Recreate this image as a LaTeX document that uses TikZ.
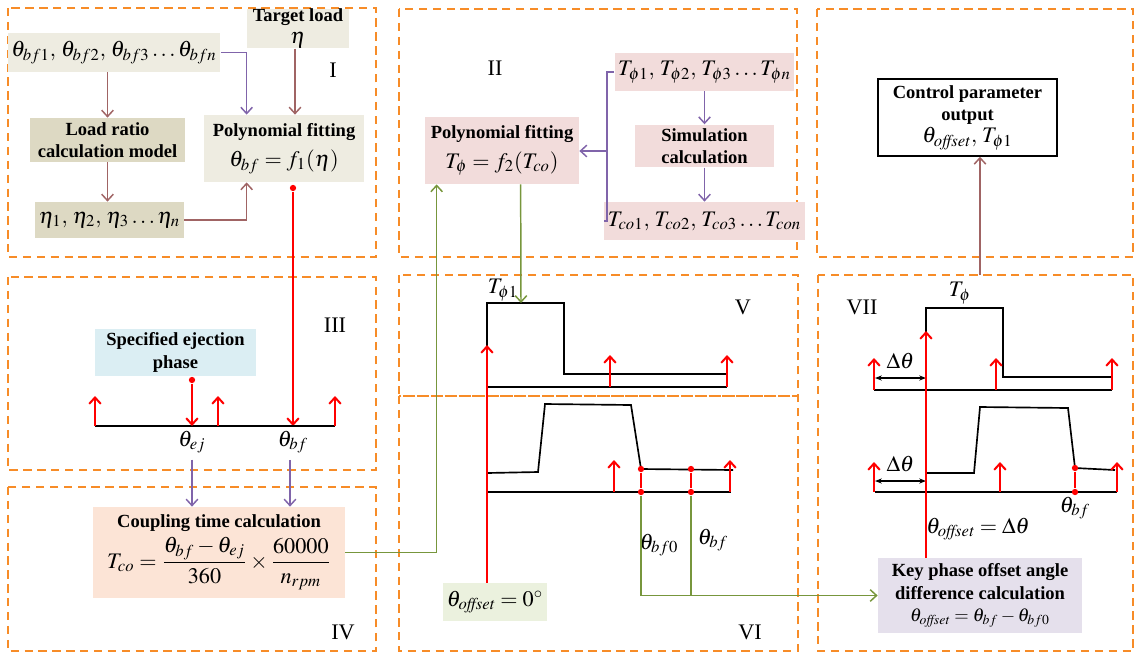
\documentclass[tikz,border=0pt]{standalone}
\usepackage{amsmath}
\usepackage{mathptmx}
\usepackage{fontspec}
\setmainfont{Liberation Serif}
\usetikzlibrary{arrows.meta,calc,positioning}
\definecolor{corange}{RGB}{247,140,40}
\definecolor{cbrown}{RGB}{160,100,100}
\definecolor{cpurple}{RGB}{128,100,170}
\definecolor{cgreen}{RGB}{119,150,60}
\definecolor{cbeige}{RGB}{238,236,225}
\definecolor{ctan}{RGB}{221,217,195}
\definecolor{cpink}{RGB}{242,220,219}
\definecolor{cblue}{RGB}{219,238,243}
\definecolor{cpeach}{RGB}{252,228,214}
\definecolor{clav}{RGB}{229,224,236}
\definecolor{cmint}{RGB}{235,241,222}
\newcommand{\pxu}{0.54pt}
\newcommand{\thoff}{\theta_{\mathit{offset}}}
\tikzset{
  panel/.style={draw=corange,line width=1.1pt,dash pattern=on 4.5pt off 3pt},
  fbox/.style={rectangle,draw=none,align=center,inner sep=2pt,font=\bfseries},
  beige/.style={fbox,fill=cbeige},
  tan/.style={fbox,fill=ctan},
  pinkbox/.style={fbox,fill=cpink},
  % arrows between the boxes
  brarr/.style={->,draw=cbrown,line width=0.8pt},
  puarr/.style={->,draw=cpurple,line width=0.8pt},
  grarr/.style={->,draw=cgreen,line width=0.8pt},
  redarr/.style={->,draw=red,line width=1.1pt},
  % phase diagrams: axis in black, key phase marks in red
  axisln/.style={black,line width=1.3pt},
  wave/.style={black,line width=0.9pt},
  rdot/.style={circle,fill=red,inner sep=0pt,minimum size=3.4pt},
  tag/.style={font=\large},
  mlab/.style={font=\large}
}

\begin{document}
\begin{tikzpicture}[x=0.54pt,y=-0.54pt,>={Straight Barb[length=1.2mm,width=2.2mm]}]
\useasboundingbox (0,0) rectangle (1135,653);
% ---------- dashed panels ----------
\draw[panel] (8,8) rectangle (376,257);
\draw[panel] (399,9) rectangle (797,257);
\draw[panel] (817,9) rectangle (1133,257);
\draw[panel] (8,277) rectangle (376,470);
\draw[panel] (8,487) rectangle (376,651);
\draw[panel] (399,275) rectangle (798,396);
\draw[panel] (399,396) rectangle (798,651);
\draw[panel] (818,275) rectangle (1133,651);
% ---------- I: target load -> theta_bf ----------
\node[beige,minimum width=174*\pxu,minimum height=39*\pxu] (thbf) at (114,52.5)
  {\large$\theta_{bf1},\,\theta_{bf2},\,\theta_{bf3}\ldots\theta_{bfn}$};
\node[beige,minimum width=102*\pxu,minimum height=33*\pxu,inner sep=0pt] (target) at (298,28.5)
  {Target load\\{\large$\eta$}};
\node[tan,minimum width=155*\pxu,minimum height=44*\pxu] (ldmodel) at (107.5,140)
  {Load ratio\\calculation model};
\node[beige,minimum width=160*\pxu,minimum height=67*\pxu] (fit1) at (284,148.5)
  {Polynomial fitting\\[4pt]{\large$\theta_{bf}=f_1(\eta)$}};
\node[tan,minimum width=117*\pxu,minimum height=36*\pxu] (etas) at (109.5,220)
  {\large$\eta_1,\,\eta_2,\,\eta_3\ldots\eta_n$};
\node[tag] at (333,70) {I};
\draw[brarr] (ldmodel.north |- thbf.south) -- (ldmodel.north);
\draw[brarr] (ldmodel.south) -- (ldmodel.south |- etas.north);
\draw[brarr] (etas.east) -| ($(fit1.south west)+(43,0)$);
\draw[puarr] (thbf.east) -| ($(fit1.north west)+(43,0)$);
\draw[brarr] (target.south -| 295,0) -- (fit1.north -| 295,0);
\node[rdot] (bfout) at (293,188) {};
\coordinate (bfax) at (293,426);
\draw[redarr] (bfout) -- (bfax);
% ---------- II: coupling time -> pulse width ----------
\node[pinkbox,minimum width=154*\pxu,minimum height=67*\pxu] (fit2) at (502,150.5)
  {Polynomial fitting\\[4pt]{\large$T_{\phi}=f_2(T_{co})$}};
\node[pinkbox,minimum width=139*\pxu,minimum height=38*\pxu] (tphi) at (704.5,72)
  {\large$T_{\phi1},\,T_{\phi2},\,T_{\phi3}\ldots T_{\phi n}$};
\node[pinkbox,minimum width=139*\pxu,minimum height=42*\pxu] (simcalc) at (704.5,146)
  {Simulation\\calculation};
\node[pinkbox,minimum width=139*\pxu,minimum height=38*\pxu] (tco) at (704.5,221)
  {\large$T_{co1},\,T_{co2},\,T_{co3}\ldots T_{con}$};
\node[tag] at (495,68) {II};
\draw[puarr] (tphi) -- (simcalc);
\draw[puarr] (simcalc) -- (tco);
\coordinate (brk) at (607,151);
\draw[cpurple,line width=0.8pt] (tphi.west) -| (brk) |- (tco.west);
\draw[puarr] (brk) -- (brk -| fit2.east);
% ---------- III: ejection phase ----------
\node[fbox,fill=cblue,minimum width=161*\pxu,minimum height=47*\pxu] (ejbox) at (175.5,352.5)
  {Specified ejection\\phase};
\node[tag] at (335,325) {III};
\draw[axisln] (95,426) -- (335,426);
\foreach \x in {95,218,335} {\draw[redarr] (\x,426) -- (\x,396);}
\node[rdot] (ejdot) at (192,380) {};
\draw[redarr] (ejdot) -- (192,426);
\node[mlab] (lej) at (192,442) {$\theta_{ej}$};
\node[mlab] (lbf) at (293,442) {$\theta_{bf}$};
% ---------- IV: coupling time ----------
\node[fbox,fill=cpeach,minimum width=252*\pxu,minimum height=91*\pxu] (couple) at (219,552.5)
  {Coupling time calculation\\[2pt]
   {\large$T_{co}=\dfrac{\theta_{bf}-\theta_{ej}}{360}\times\dfrac{60000}{n_{rpm}}$}};
\node[tag] at (343,632) {IV};
\draw[puarr] (lej.south) -- (lej.south |- couple.north);
\draw[puarr] (lbf.south -| 290,0) -- (couple.north -| 290,0);
\draw[grarr] (couple.east) -| ($(fit2.south west)+(12,0)$);
% ---------- V: pulse at zero offset ----------
\coordinate (ptop) at (521,303);
\draw[wave] (487,373) -- (487,303) -- (564,303) -- (564,374) -- (727,374);
\draw[axisln] (487,387) -- (727,387);
\foreach \x in {610,727} {\draw[redarr] (\x,387) -- (\x,355);}
\node[mlab] at (503,290) {$T_{\phi1}$};
\node[tag] at (743,307) {V};
\draw[grarr] ($(fit2.south west)+(96,0)$) -- (ptop);
% ---------- VI: measured phase ----------
\draw[wave] (487,473) -- (538,472) -- (545,404) -- (631,405) -- (641,469) -- (733,470);
\draw[axisln] (487,492) -- (731,492);
\foreach \x in {614,730} {\draw[redarr] (\x,492) -- (\x,460);}
\node[rdot] (b0top) at (641,469) {};
\node[rdot] (b0ax) at (641,492) {};
\node[rdot] (bftop) at (691,469) {};
\node[rdot] (bfax6) at (691,492) {};
\draw[red,line width=1.1pt] (b0top) -- (b0ax) (bftop) -- (bfax6);
\node[fbox,fill=cmint,minimum width=94*\pxu,minimum height=38*\pxu,font=\large] (off0) at (495,602)
  {$\thoff=0^{\circ}$};
\draw[redarr] (off0.north -| 487,0) -- (487,345);
\node[mlab] at (659,545) {$\theta_{bf0}$};
\node[mlab] at (713,540) {$\theta_{bf}$};
\node[tag] at (750,632) {VI};
% ---------- VII: shifted pulse ----------
\draw[wave] (926,378) -- (926,308) -- (1003,308) -- (1003,377) -- (1112,377);
\draw[axisln] (874,390) -- (1112,390);
\foreach \x in {874,996,1112} {\draw[redarr] (\x,390) -- (\x,358);}
\draw[<->,>={Stealth[length=1.3mm]},thick] (875,378) -- node[above=1pt,mlab]{$\Delta\theta$} (926,378);
\node[mlab] at (960,293) {$T_{\phi}$};
\draw[wave] (927,473) -- (974,473) -- (980,407) -- (1068,408) -- (1075,468) -- (1115,470);
\draw[axisln] (875,492) -- (1117,492);
\foreach \x in {874,1000,1117} {\draw[redarr] (\x,492) -- (\x,462);}
\node[rdot] (s7top) at (1075,468) {};
\node[rdot] (s7ax) at (1075,492) {};
\draw[red,line width=1.1pt] (s7top) -- (s7ax);
\draw[<->,>={Stealth[length=1.3mm]},thick] (875,481) -- node[above=1pt,mlab]{$\Delta\theta$} (926,481);
\node[mlab] at (1075,508) {$\theta_{bf}$};
\node[tag] at (862,307) {VII};
\node[fbox,fill=clav,minimum width=204*\pxu,minimum height=75*\pxu,inner sep=1pt] (keyph) at (980,595.5)
  {Key phase offset angle\\difference calculation\\
   {$\thoff=\theta_{bf}-\theta_{bf0}$}};
\node[font=\large] at (978,529) {$\thoff=\Delta\theta$};
\coordinate (p7) at (926,331);
\draw[redarr] (p7 |- keyph.north) -- (p7);
\draw[grarr] (b0ax) |- (keyph.west);
\draw[cgreen,line width=0.8pt] (bfax6) -- (bfax6 |- keyph.west);
% ---------- output ----------
\node[fbox,draw=black,thick,fill=white,minimum width=179*\pxu,minimum height=77*\pxu,inner sep=1pt] (ctrl) at (967.5,117.5)
  {Control parameter\\output\\{\large$\thoff,\,T_{\phi1}$}};
\coordinate (c7) at (980,275);
\draw[brarr] (c7) -- (c7 |- ctrl.south);
\end{tikzpicture}
\end{document}
